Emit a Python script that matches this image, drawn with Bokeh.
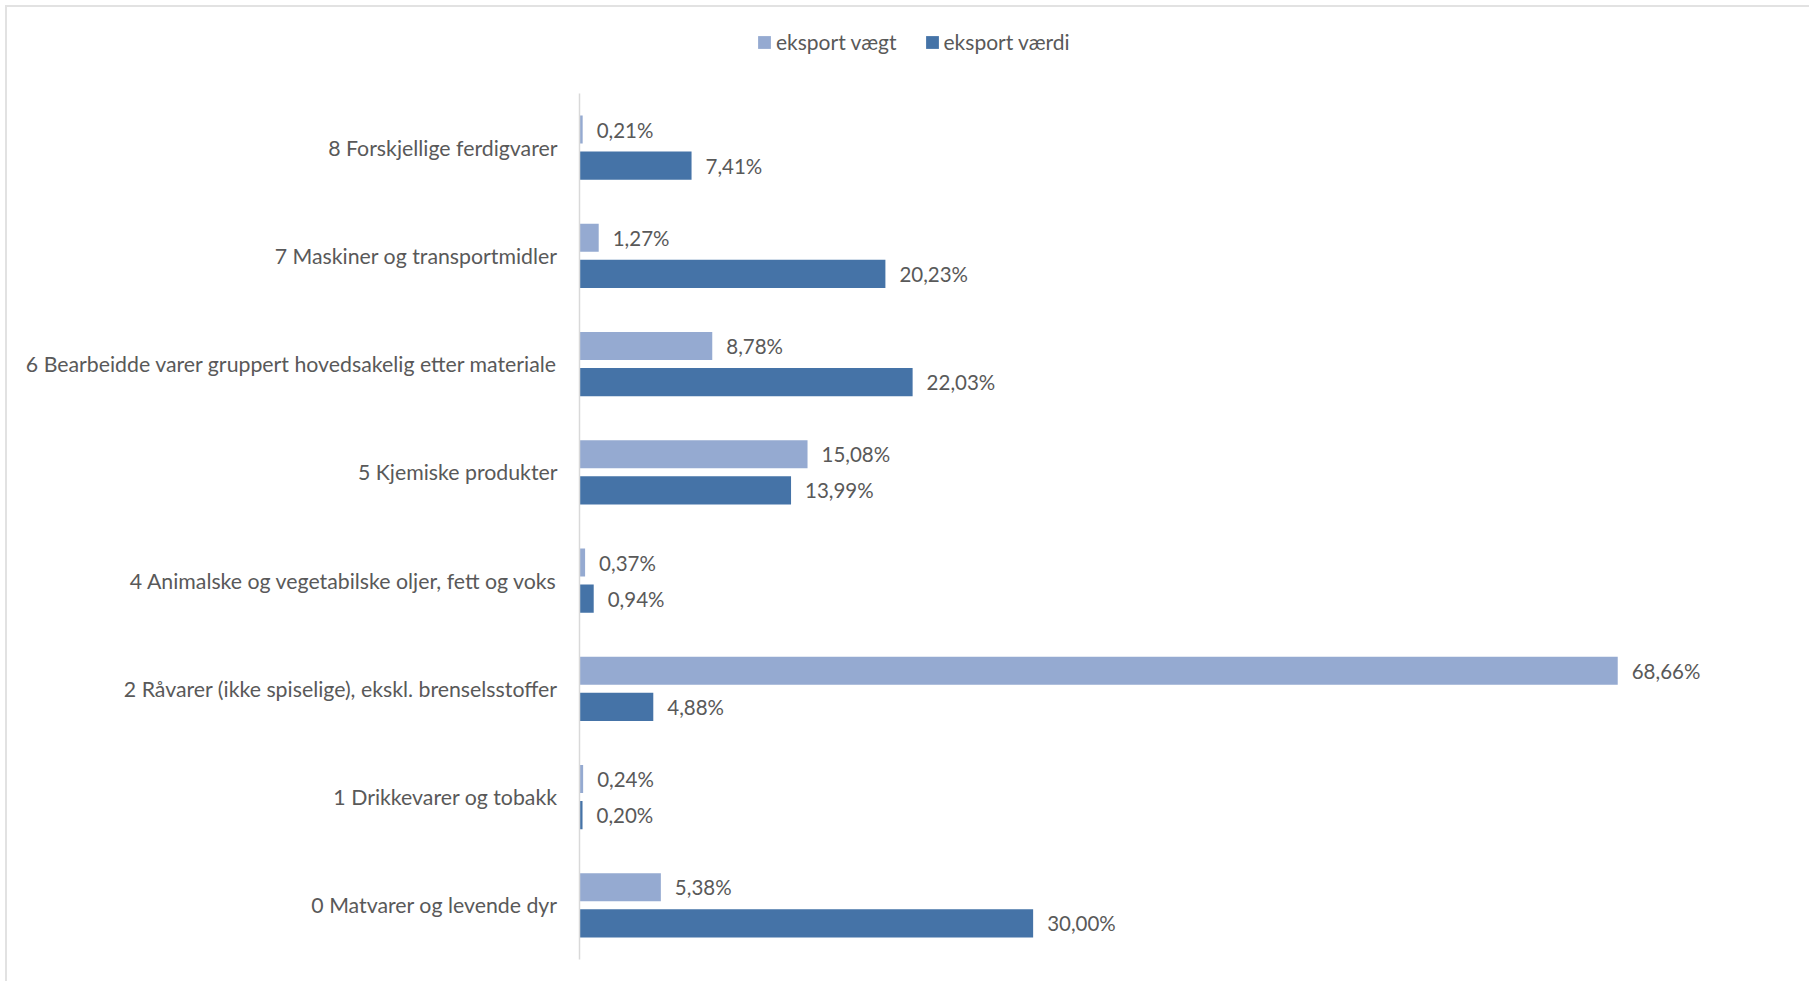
from bokeh.plotting import figure
from bokeh.models import ColumnDataSource, Range1d, Legend, LegendItem, FixedTicker
from bokeh.transform import dodge
from bokeh.core.properties import value
from bokeh.embed import file_html
from bokeh.resources import INLINE

# categories listed bottom -> top
categories = [
    "0 Matvarer og levende dyr",
    "1 Drikkevarer og tobakk",
    "2 Råvarer (ikke spiselige), ekskl. brenselsstoffer",
    "4 Animalske og vegetabilske oljer, fett og voks",
    "5 Kjemiske produkter",
    "6 Bearbeidde varer gruppert hovedsakelig etter materiale",
    "7 Maskiner og transportmidler",
    "8 Forskjellige ferdigvarer",
]
eksport_vaegt = [5.38, 0.24, 68.66, 0.37, 15.08, 8.78, 1.27, 0.21]
eksport_vaerdi = [30.00, 0.20, 4.88, 0.94, 13.99, 22.03, 20.23, 7.41]
series_names = ["eksport vægt", "eksport værdi"]

def fmt(v):
    return f"{v:.2f}".replace(".", ",") + "%"

ypos = list(range(len(categories)))
src = ColumnDataSource(dict(
    y=ypos,
    cat=categories,
    vaegt=eksport_vaegt,
    vaerdi=eksport_vaerdi,
    vaegt_lbl=[fmt(v) for v in eksport_vaegt],
    vaerdi_lbl=[fmt(v) for v in eksport_vaerdi],
))

LIGHT = "#95aad1"
DARK = "#4573a7"
TXT = "#595959"
FONT = "Lato"

n = len(categories)
p = figure(
    y_range=Range1d(-0.5, n - 0.5 + 0.7667),
    x_range=Range1d(0, 80.02),
    frame_width=1210, frame_height=949,
    min_border_left=579, min_border_right=20,
    min_border_top=10, min_border_bottom=22,
    output_backend="svg", toolbar_location=None,
    background_fill_color="white", border_fill_alpha=0,
)
p.styles = {"box-shadow": "inset 5px 5px 0 0 #ffffff, inset 7px 7px 0 0 #e2e2e2"}
p.outline_line_color = None
p.grid.visible = False
p.xaxis.visible = False

off = 0.1663
bh = 0.2587
r1 = p.hbar(y=dodge("y", off), left=0, right="vaegt", height=bh,
            source=src, fill_color=LIGHT, line_color=None)
r2 = p.hbar(y=dodge("y", -off), left=0, right="vaerdi", height=bh,
            source=src, fill_color=DARK, line_color=None)

p.text(x="vaegt", y=dodge("y", off), text="vaegt_lbl", source=src,
       x_offset=14, text_align="left", text_baseline="middle",
       text_font=value(FONT), text_font_size="20.5px", text_color=TXT)
p.text(x="vaerdi", y=dodge("y", -off), text="vaerdi_lbl", source=src,
       x_offset=14, text_align="left", text_baseline="middle",
       text_font=value(FONT), text_font_size="20.5px", text_color=TXT)

ax = p.yaxis[0]
ax.ticker = FixedTicker(ticks=ypos)
ax.major_label_overrides = {i: c for i, c in zip(ypos, categories)}
ax.bounds = (-0.5, n - 0.5)
ax.axis_line_color = "#d9d9d9"
ax.axis_line_width = 1.5
ax.major_tick_line_color = None
ax.minor_tick_line_color = None
ax.major_label_standoff = 16
ax.major_label_text_font = FONT
ax.major_label_text_font_size = "21.3px"
ax.major_label_text_color = TXT

legend = Legend(
    items=[LegendItem(label=series_names[0], renderers=[r1]),
           LegendItem(label=series_names[1], renderers=[r2])],
    orientation="horizontal", location=(177, 905),
    glyph_width=16, glyph_height=16, label_standoff=4, spacing=27,
    label_text_font=FONT, label_text_font_size="21px", label_text_color=TXT,
    border_line_color=None, background_fill_alpha=0, padding=5, margin=0,
)
p.add_layout(legend, "center")

open("out.html", "w").write(file_html(p, INLINE))
